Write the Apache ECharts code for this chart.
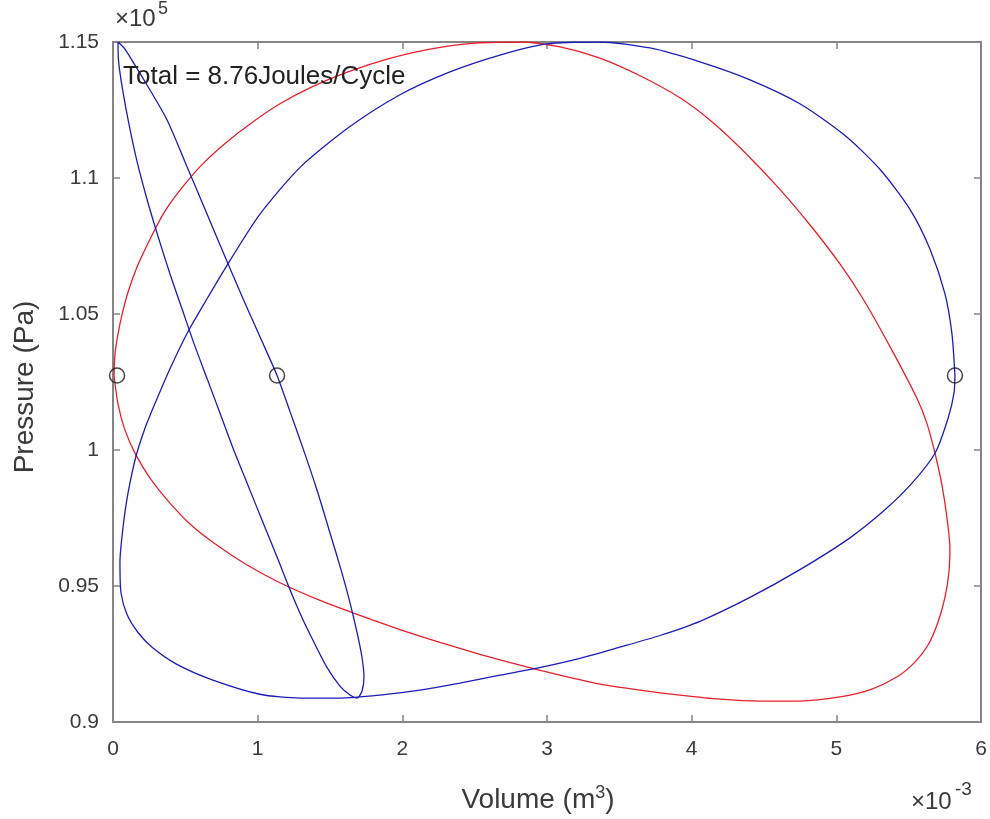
<!DOCTYPE html>
<html><head><meta charset="utf-8">
<script src="https://cdn.jsdelivr.net/npm/echarts@6/dist/echarts.min.js"></script>
<style>html,body{margin:0;padding:0;background:#fff}#c{width:990px;height:819px}</style>
</head><body><div id="c"></div><script>
// Volume in units of 1e-3 m^3, pressure in units of 1e5 Pa
const xTicks = [0, 1, 2, 3, 4, 5, 6];
const yTicks = [0.9, 0.95, 1, 1.05, 1.1, 1.15];

const redLoop = [[0.007,1.0274],[0.014,1.0354],[0.035,1.0428],[0.062,1.0497],[0.104,1.0581],[0.166,1.0673],[0.256,1.0775],[0.359,1.0878],[0.484,1.0969],[0.622,1.1053],[0.781,1.1130],[0.961,1.1204],[1.154,1.1273],[1.375,1.1335],[1.624,1.1390],[1.901,1.1438],[2.191,1.1474],[2.502,1.1496],[2.813,1.1500],[3.090,1.1482],[3.366,1.1441],[3.643,1.1376],[3.919,1.1295],[4.140,1.1207],[4.368,1.1094],[4.610,1.0958],[4.831,1.0819],[5.025,1.0684],[5.184,1.0556],[5.371,1.0380],[5.557,1.0190],[5.626,1.0098],[5.682,0.9988],[5.730,0.9871],[5.765,0.9750],[5.785,0.9641],[5.778,0.9549],[5.751,0.9458],[5.702,0.9366],[5.633,0.9282],[5.543,0.9220],[5.426,0.9168],[5.246,0.9121],[5.025,0.9092],[4.748,0.9077],[4.472,0.9077],[4.195,0.9084],[3.919,0.9099],[3.643,0.9117],[3.366,0.9139],[3.090,0.9172],[2.813,0.9209],[2.537,0.9249],[2.260,0.9293],[1.984,0.9340],[1.707,0.9392],[1.431,0.9447],[1.154,0.9512],[0.912,0.9582],[0.705,0.9655],[0.532,0.9728],[0.380,0.9813],[0.256,0.9897],[0.159,0.9981],[0.083,1.0073],[0.035,1.0168],[0.007,1.0274]];

const blueLoop = [[5.820,1.0274],[5.799,1.0428],[5.751,1.0574],[5.647,1.0739],[5.509,1.0885],[5.301,1.1032],[5.060,1.1156],[4.748,1.1273],[4.403,1.1361],[4.057,1.1427],[3.712,1.1478],[3.366,1.1500],[3.000,1.1493],[2.675,1.1452],[2.329,1.1390],[1.984,1.1306],[1.638,1.1189],[1.293,1.1039],[1.016,1.0867],[0.823,1.0709],[0.650,1.0556],[0.518,1.0435],[0.394,1.0299],[0.290,1.0171],[0.221,1.0080],[0.159,0.9977],[0.104,0.9842],[0.069,0.9714],[0.048,0.9586],[0.055,0.9476],[0.097,0.9395],[0.173,0.9329],[0.270,0.9275],[0.442,0.9212],[0.691,0.9154],[1.016,0.9102],[1.293,0.9088],[1.569,0.9088],[1.846,0.9099],[2.122,0.9117],[2.398,0.9143],[2.675,0.9172],[2.931,0.9198],[3.228,0.9234],[3.504,0.9275],[3.781,0.9318],[4.057,0.9370],[4.403,0.9458],[4.748,0.9560],[5.094,0.9677],[5.336,0.9780],[5.523,0.9878],[5.682,0.9988],[5.772,1.0116],[5.813,1.0208],[5.820,1.0274]];

const blueEllipse = [[0.035,1.1500],[0.076,1.1478],[0.138,1.1427],[0.235,1.1342],[0.373,1.1214],[0.505,1.1050],[0.636,1.0885],[0.767,1.0720],[0.899,1.0556],[1.016,1.0416],[1.134,1.0274],[1.223,1.0142],[1.313,1.0007],[1.410,0.9853],[1.500,0.9695],[1.576,0.9560],[1.638,0.9439],[1.687,0.9329],[1.721,0.9238],[1.735,0.9165],[1.721,0.9113],[1.687,0.9088],[1.638,0.9099],[1.569,0.9132],[1.479,0.9201],[1.389,0.9293],[1.306,0.9384],[1.223,0.9487],[1.141,0.9597],[1.058,0.9706],[0.968,0.9824],[0.899,0.9915],[0.829,1.0007],[0.740,1.0135],[0.650,1.0263],[0.560,1.0391],[0.477,1.0519],[0.394,1.0647],[0.311,1.0786],[0.235,1.0922],[0.166,1.1061],[0.111,1.1196],[0.069,1.1317],[0.041,1.1416],[0.035,1.1471],[0.035,1.1500]];

const markerPoints = [[0.028,1.0274],[1.134,1.0274],[5.820,1.0274]];

const annotationText = 'Total = 8.76Joules/Cycle';
const xTitle = 'Volume (m{sup|3})';
const yTitle = 'Pressure (Pa)';

const axisColor = '#858585';
const labelColor = '#3a3a3a';
const FONT = '"Liberation Sans", Arial, sans-serif';

const chart = echarts.init(document.getElementById('c'), null, {renderer: 'canvas'});

function baseAxis(extra) {
  return Object.assign({
    type: 'value',
    axisLine: {show: true, onZero: false, lineStyle: {color: axisColor, width: 2}},
    axisTick: {show: true, inside: true, length: 7, lineStyle: {color: axisColor, width: 1.5}},
    splitLine: {show: false},
    axisLabel: {color: labelColor, fontSize: 21, fontFamily: FONT}
  }, extra);
}

const option = {
  animation: false,
  backgroundColor: '#ffffff',
  grid: {left: 113, right: 9, top: 42, bottom: 94, containLabel: false},
  xAxis: [
    baseAxis({min: xTicks[0], max: xTicks[xTicks.length - 1], interval: 1, position: 'bottom',
      axisLabel: {color: labelColor, fontSize: 21, fontFamily: FONT, margin: 17},
      name: xTitle, nameLocation: 'middle', nameGap: 62,
      nameTextStyle: {color: labelColor, fontSize: 28, fontFamily: FONT, padding: [0, 18, 0, 0],
        rich: {sup: {fontSize: 18, fontFamily: FONT, color: labelColor, padding: [0, 0, 14, 0]}}}}),
    baseAxis({min: xTicks[0], max: xTicks[xTicks.length - 1], interval: 1, position: 'top',
      axisLabel: {show: false}})
  ],
  yAxis: [
    baseAxis({min: yTicks[0], max: yTicks[yTicks.length - 1], interval: 0.05, position: 'left',
      axisLabel: {color: labelColor, fontSize: 21, fontFamily: FONT, margin: 14},
      name: yTitle, nameLocation: 'middle', nameGap: 74, nameRotate: 90,
      nameTextStyle: {color: labelColor, fontSize: 28, fontFamily: FONT, padding: [0, 10, 0, 0]}}),
    baseAxis({min: yTicks[0], max: yTicks[yTicks.length - 1], interval: 0.05, position: 'right',
      axisLabel: {show: false}})
  ],
  series: [
    {type: 'line', data: redLoop, smooth: 0.25, showSymbol: false, symbol: 'none',
      lineStyle: {color: '#e8202a', width: 1.3}, xAxisIndex: 0, yAxisIndex: 0, z: 2},
    {type: 'line', data: blueLoop, smooth: 0.25, showSymbol: false, symbol: 'none',
      lineStyle: {color: '#1c1cb8', width: 1.3}, xAxisIndex: 0, yAxisIndex: 0, z: 3},
    {type: 'line', data: blueEllipse, smooth: 0.25, showSymbol: false, symbol: 'none',
      lineStyle: {color: '#1c1cb8', width: 1.3}, xAxisIndex: 0, yAxisIndex: 0, z: 3},
    {type: 'scatter', data: markerPoints, symbol: 'circle', symbolSize: 15,
      itemStyle: {color: 'rgba(0,0,0,0)', borderColor: '#1a1a1a', borderWidth: 1.5}, z: 5}
  ],
  graphic: [
    {type: 'text', left: 123, top: 64, z: 10,
      style: {text: annotationText, fontSize: 26, fontFamily: FONT, fill: '#222'}},
    {type: 'text', left: 115, top: 7, z: 10,
      style: {text: '×10', fontSize: 24, fontFamily: FONT, fill: labelColor}},
    {type: 'text', left: 158, top: 0, z: 10,
      style: {text: '5', fontSize: 18, fontFamily: FONT, fill: labelColor}},
    {type: 'text', left: 911, top: 790, z: 10,
      style: {text: '×10', fontSize: 24, fontFamily: FONT, fill: labelColor}},
    {type: 'text', left: 955, top: 780, z: 10,
      style: {text: '-3', fontSize: 19, fontFamily: FONT, fill: labelColor}}
  ]
};
chart.setOption(option);
</script></body></html>
